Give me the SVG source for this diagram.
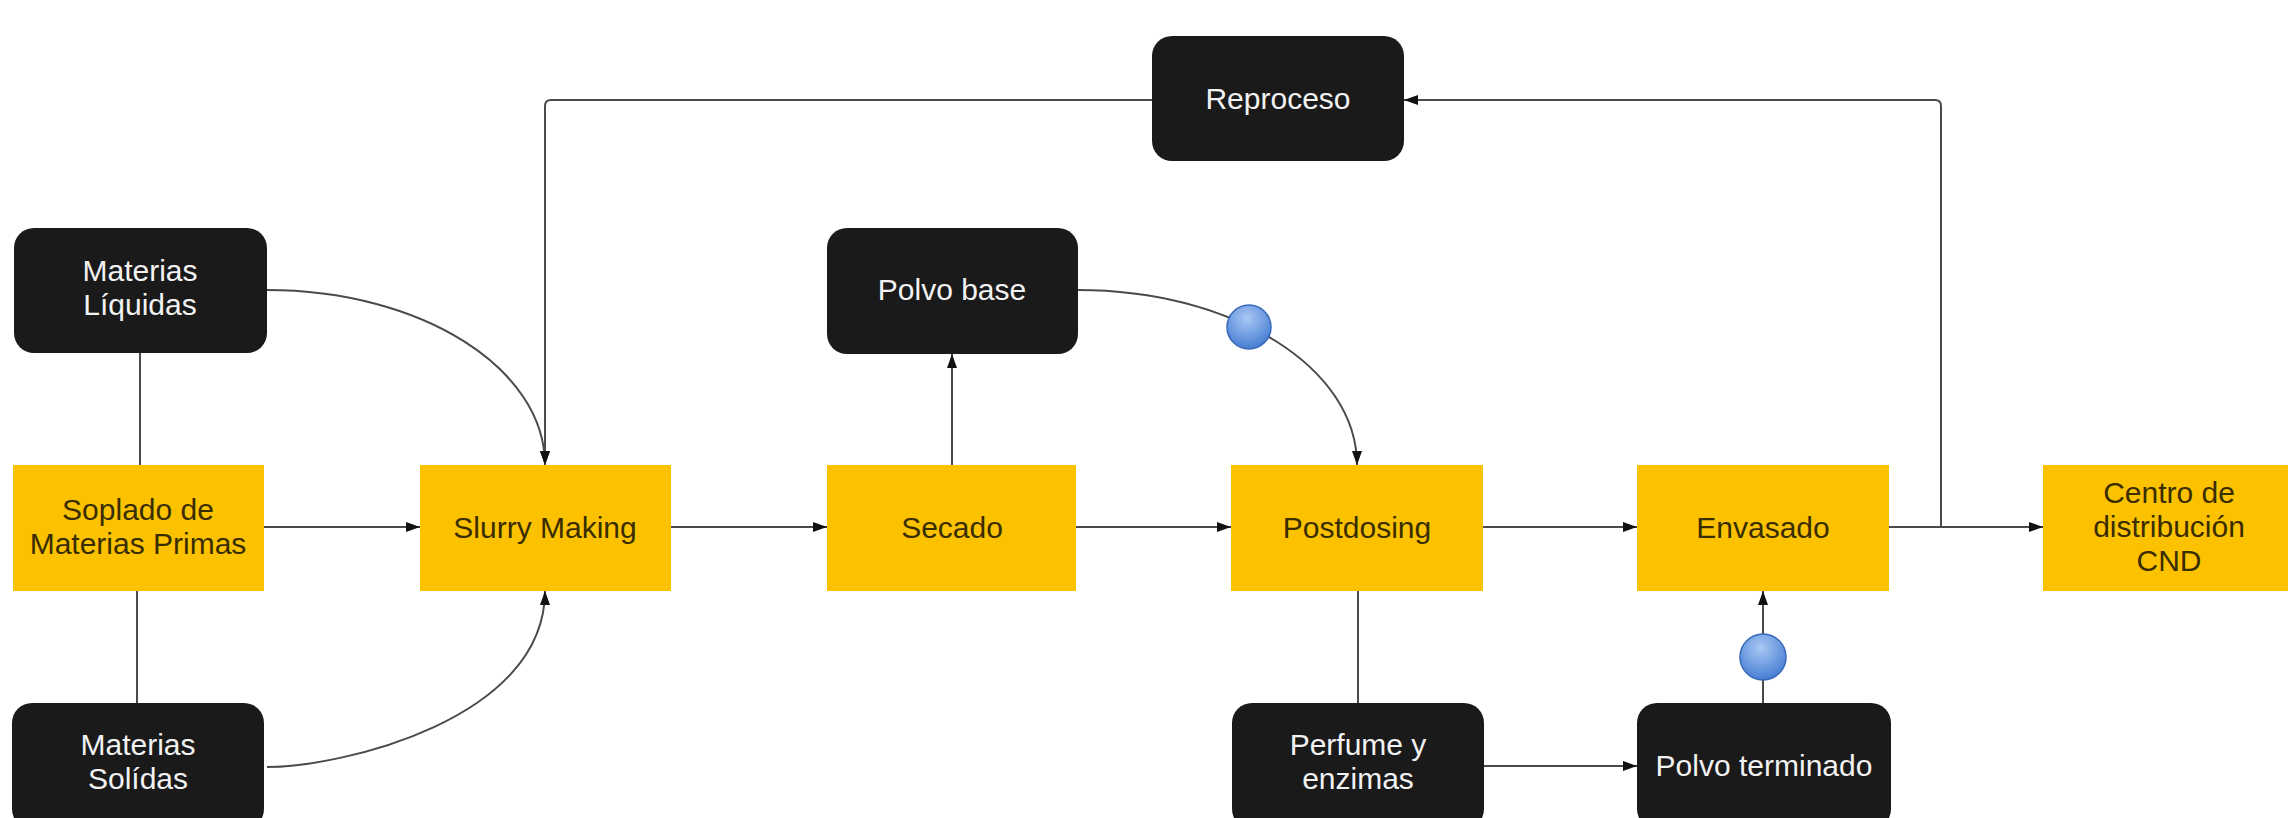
<svg xmlns="http://www.w3.org/2000/svg" width="2288" height="818" viewBox="0 0 2288 818">
<style>
.y{fill:#FCC200}
.b{fill:#1a1a1a}
.ty{font-family:"Liberation Sans",Arial,sans-serif;font-size:30px;fill:#3a2d00;text-anchor:middle}
.tb{font-family:"Liberation Sans",Arial,sans-serif;font-size:30px;fill:#f2f2f2;text-anchor:middle}
.c{fill:none;stroke:#4a4a4a;stroke-width:2}
.dot{fill:url(#g);stroke:#3868b8;stroke-width:1.5}
</style>
<defs>
<marker id="a" viewBox="0 0 14 10" refX="14" refY="5" markerWidth="14" markerHeight="10" markerUnits="userSpaceOnUse" orient="auto">
<path d="M0,0 L14,5 L0,10 z" fill="#111"/>
</marker>
<radialGradient id="g" cx="0.45" cy="0.3" r="0.75">
<stop offset="0" stop-color="#a9c8f5"/>
<stop offset="1" stop-color="#3f78d0"/>
</radialGradient>
</defs>
<rect width="2288" height="818" fill="#fff"/>
<g id="connectors">
<path class="c" d="M140,353 V465"/>
<path class="c" d="M137,591 V703"/>
<path class="c" d="M264,527 H420" marker-end="url(#a)"/>
<path class="c" d="M267,290 C421,290 545,368 545,465" marker-end="url(#a)"/>
<path class="c" d="M267,767 C340,767 545,720 545,591" marker-end="url(#a)"/>
<path class="c" d="M671,527 H827" marker-end="url(#a)"/>
<path class="c" d="M952,465 V354" marker-end="url(#a)"/>
<path class="c" d="M1078,290 C1232,290 1357,367 1357,465" marker-end="url(#a)"/>
<path class="c" d="M1076,527 H1231" marker-end="url(#a)"/>
<path class="c" d="M1358,591 V703"/>
<path class="c" d="M1483,527 H1637" marker-end="url(#a)"/>
<path class="c" d="M1484,766 H1637" marker-end="url(#a)"/>
<path class="c" d="M1763,703 V591" marker-end="url(#a)"/>
<path class="c" d="M1889,527 H2043" marker-end="url(#a)"/>
<path class="c" d="M1941,527 V106 Q1941,100 1935,100 H1404" marker-end="url(#a)"/>
<path class="c" d="M1152,100 H551 Q545,100 545,106 V465" marker-end="url(#a)"/>
<circle class="dot" cx="1249" cy="327" r="22"/>
<circle class="dot" cx="1763" cy="657" r="23"/>
</g>
<g id="reproceso"><rect class="b" x="1152" y="36" width="252" height="125" rx="20"/><text class="tb" x="1278" y="109">Reproceso</text></g>
<g id="materias-liquidas"><rect class="b" x="14" y="228" width="253" height="125" rx="20"/><text class="tb" x="140" y="281">Materias</text><text class="tb" x="140" y="315">Líquidas</text></g>
<g id="polvo-base"><rect class="b" x="827" y="228" width="251" height="126" rx="20"/><text class="tb" x="952" y="300">Polvo base</text></g>
<g id="soplado"><rect class="y" x="13" y="465" width="251" height="126"/><text class="ty" x="138" y="520">Soplado de</text><text class="ty" x="138" y="554">Materias Primas</text></g>
<g id="slurry"><rect class="y" x="420" y="465" width="251" height="126"/><text class="ty" x="545" y="538">Slurry Making</text></g>
<g id="secado"><rect class="y" x="827" y="465" width="249" height="126"/><text class="ty" x="952" y="538">Secado</text></g>
<g id="postdosing"><rect class="y" x="1231" y="465" width="252" height="126"/><text class="ty" x="1357" y="538">Postdosing</text></g>
<g id="envasado"><rect class="y" x="1637" y="465" width="252" height="126"/><text class="ty" x="1763" y="538">Envasado</text></g>
<g id="centro"><rect class="y" x="2043" y="465" width="252" height="126"/><text class="ty" x="2169" y="503">Centro de</text><text class="ty" x="2169" y="537">distribución</text><text class="ty" x="2169" y="571">CND</text></g>
<g id="materias-solidas"><rect class="b" x="12" y="703" width="252" height="126" rx="20"/><text class="tb" x="138" y="755">Materias</text><text class="tb" x="138" y="789">Solídas</text></g>
<g id="perfume"><rect class="b" x="1232" y="703" width="252" height="126" rx="20"/><text class="tb" x="1358" y="755">Perfume y</text><text class="tb" x="1358" y="789">enzimas</text></g>
<g id="polvo-terminado"><rect class="b" x="1637" y="703" width="254" height="126" rx="20"/><text class="tb" x="1764" y="776">Polvo terminado</text></g>
</svg>
